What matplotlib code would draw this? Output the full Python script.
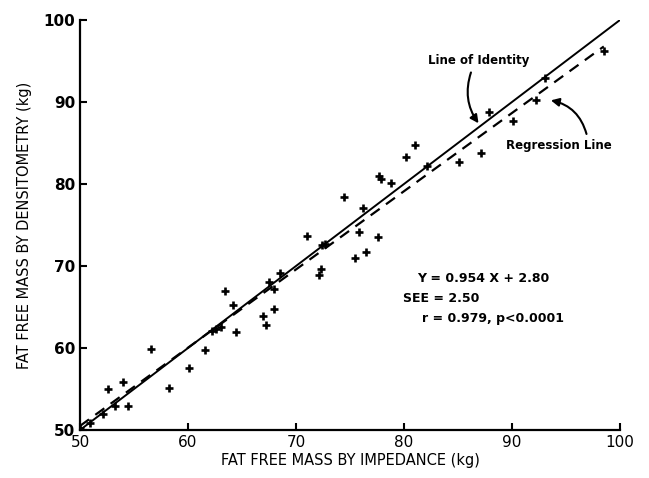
import numpy as np
import matplotlib
matplotlib.use('Agg')
import matplotlib.pyplot as plt

# fat free mass (kg): impedance vs densitometry
ffm_impedance = [50.0, 50.9, 52.1, 53.2, 52.6, 54.0, 54.4, 56.6, 58.2, 60.1,
                 61.6, 62.2, 62.6, 63.1, 63.4, 64.2, 64.4, 66.9, 67.2, 67.5,
                 68.0, 68.0, 68.5, 71.0, 72.1, 72.3, 72.4, 72.7, 75.5, 75.8,
                 76.5, 77.6, 74.4, 76.2, 77.7, 77.9, 78.8, 80.2, 81.0, 82.1,
                 85.1, 87.1, 87.9, 90.1, 92.2, 93.1, 98.5]
ffm_densitometry = [50.3, 50.9, 51.9, 52.9, 55.0, 55.9, 52.9, 59.9, 55.1, 57.6,
                    59.7, 62.1, 62.3, 62.6, 67.0, 65.3, 62.0, 63.9, 62.8, 68.1,
                    67.2, 64.8, 69.1, 73.7, 68.9, 69.6, 72.5, 72.7, 71.0, 74.1,
                    71.7, 73.5, 78.4, 77.1, 81.0, 80.6, 80.1, 83.3, 84.8, 82.2,
                    82.7, 83.8, 88.8, 87.7, 90.2, 92.9, 96.2]

slope, intercept = 0.954, 2.80
identity_x = [50, 100]
regress_x = [50, 98.5]

xticks = [50, 60, 70, 80, 90, 100]
yticks = [50, 60, 70, 80, 90, 100]

fig = plt.figure(figsize=(6.49, 4.78), dpi=100)
ax = fig.add_axes([0.1233, 0.1004, 0.832, 0.8578])

ax.plot(identity_x, identity_x, color='black', lw=1.4)
rx = np.array(regress_x)
ax.plot(rx, slope * rx + intercept, color='black', lw=1.6, ls=(0, (5, 3.5)))
ax.plot(ffm_impedance, ffm_densitometry, ls='none', marker='+',
        ms=5.5, mew=1.9, color='black')

ax.set_xlim(50, 100)
ax.set_ylim(50, 100)
ax.set_xticks(xticks)
ax.set_yticks(yticks)
ax.tick_params(direction='in', length=5, width=1.5, labelsize=11)
for lab in ax.get_yticklabels():
    lab.set_fontweight('bold')
ax.spines['top'].set_visible(False)
ax.spines['right'].set_visible(False)
ax.spines['left'].set_linewidth(1.6)
ax.spines['bottom'].set_linewidth(1.6)

ax.set_xlabel('FAT FREE MASS BY IMPEDANCE (kg)', fontsize=10.5, labelpad=2)
ax.set_ylabel('FAT FREE MASS BY DENSITOMETRY (kg)', fontsize=10.5, labelpad=8)

bold = dict(fontsize=8.5, fontweight='bold')
arrow = dict(arrowstyle='-|>', color='black', lw=1.5, shrinkA=0, shrinkB=0,
             mutation_scale=12)

ax.text(86.9, 95.1, 'Line of Identity', ha='center', va='center', **bold)
ax.annotate('', xy=(86.9, 87.4), xytext=(86.2, 93.6),
            arrowprops=dict(arrow, connectionstyle='arc3,rad=0.25'))

ax.text(94.3, 84.7, 'Regression Line', ha='center', va='center', **bold)
ax.annotate('', xy=(93.6, 90.2), xytext=(96.9, 86.1),
            arrowprops=dict(arrow, connectionstyle='arc3,rad=0.3'))

stats = dict(fontsize=9, fontweight='bold', va='center')
ax.text(81.2, 68.5, 'Y = 0.954 X + 2.80', **stats)
ax.text(79.9, 66.0, 'SEE = 2.50', **stats)
ax.text(81.7, 63.6, 'r = 0.979, p<0.0001', **stats)

fig.savefig('out.png', dpi=100)
